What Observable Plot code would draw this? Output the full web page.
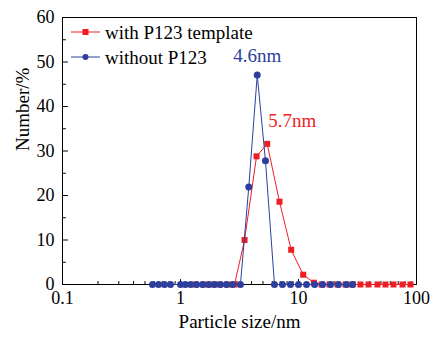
<!DOCTYPE html>
<html><head><meta charset="utf-8">
<script src="https://cdn.jsdelivr.net/npm/d3@7"></script>
<script src="https://cdn.jsdelivr.net/npm/@observablehq/plot@0.6"></script>
<style>body{margin:0;background:#fff}#chart{width:431px;height:337px}</style>
</head><body><div id="chart"></div>
<script>
// ---- data ----
const seriesNames = ["with P123 template", "without P123"];
const peakLabels = ["5.7nm", "4.6nm"];
const redSize = [1.34,1.57,1.83,2.14,2.50,2.87,3.49,4.41,5.43,6.90,8.67,10.96,13.5,15.7,18.3,21.4,25.0,28.7,33.5,39.2,46.7,54.6,63.8,76.1,88.9];
const redNumber = [0,0,0,0,0,0,10.0,28.8,31.6,18.6,7.8,2.2,0.4,0,0,0,0,0,0,0,0,0,0,0,0];
const blueSize = [0.579,0.651,0.732,0.823,1.0,1.10,1.22,1.37,1.54,1.73,1.94,2.18,2.45,2.76,3.22,3.79,4.47,5.25,6.26,7.31,8.55,10.0,11.7,13.7,16.0,18.7,21.8,25.5,28.7];
const blueNumber = [0,0,0,0,0,0,0,0,0,0,0,0,0,0,0,21.9,47.1,27.8,0,0,0,0,0,0,0,0,0,0,0];
const xTicks = [0.1, 1, 10, 100];
const xTickLabels = ["0.1", "1", "10", "100"];
const xMinorTicks = [0.2,0.3,0.4,0.5,0.6,0.7,0.8,0.9,2,3,4,5,6,7,8,9,20,30,40,50,60,70,80,90];
const yTicks = [0, 10, 20, 30, 40, 50, 60];
const yMinorTicks = [5, 15, 25, 35, 45, 55];

const RED = "#ee1f24", BLUE = "#2d3f9d";
const red = redSize.map((s, i) => ({size: s, number: redNumber[i]}));
const blue = blueSize.map((s, i) => ({size: s, number: blueNumber[i]}));
const redPeak = [red.reduce((a, b) => b.number > a.number ? b : a)];
const bluePeak = [blue.reduce((a, b) => b.number > a.number ? b : a)];

// straight tick shape for vectors (no arrow head)
const tickShape = {draw(context, l) { context.moveTo(0, 0); context.lineTo(0, -l); }};

function legend(index, scales, values, dims) {
  const g = d3.create("svg:g").attr("font-family", "Liberation Serif").attr("font-size", 19);
  const rows = [
    {name: seriesNames[0], color: RED, symbol: "square"},
    {name: seriesNames[1], color: BLUE, symbol: "circle"}
  ];
  const left = dims.marginLeft, top = dims.marginTop;
  rows.forEach((r, i) => {
    const y = top + 15 + i * 25;
    const x0 = left + 9;
    g.append("line").attr("x1", x0).attr("x2", x0 + 29).attr("y1", y).attr("y2", y)
      .attr("stroke", r.color).attr("stroke-width", 1);
    if (r.symbol === "square") {
      g.append("rect").attr("x", x0 + 14.5 - 3).attr("y", y - 3).attr("width", 6).attr("height", 6).attr("fill", r.color);
    } else {
      g.append("circle").attr("cx", x0 + 14.5).attr("cy", y).attr("r", 3).attr("fill", r.color);
    }
    g.append("text").attr("x", x0 + 34).attr("y", y).attr("dy", "0.35em")
      .attr("text-anchor", "start").attr("fill", "black").text(r.name);
  });
  return g.node();
}

const chart = Plot.plot({
  width: 431, height: 337,
  marginLeft: 62, marginRight: 15, marginTop: 17, marginBottom: 53,
  style: {fontFamily: "Liberation Serif", fontSize: "18px", color: "black", background: "white"},
  x: {type: "log", domain: [0.1, 100]},
  y: {domain: [0, 60]},
  marks: [
    Plot.axisX({ticks: xTicks, tickSize: 0, tickPadding: 7, tickFormat: d => xTickLabels[xTicks.indexOf(d)], label: null, fontSize: 18}),
    Plot.axisY({ticks: yTicks, tickSize: 0, tickPadding: 8, label: null, fontSize: 18}),
    // inward ticks
    Plot.vector(xTicks, {x: d => d, frameAnchor: "bottom", rotate: 0, length: 5, anchor: "start", shape: tickShape, stroke: "black", strokeWidth: 1}),
    Plot.vector(xMinorTicks, {x: d => d, frameAnchor: "bottom", rotate: 0, length: 3, anchor: "start", shape: tickShape, stroke: "black", strokeWidth: 1}),
    Plot.vector(yTicks, {y: d => d, frameAnchor: "left", rotate: 90, length: 5, anchor: "start", shape: tickShape, stroke: "black", strokeWidth: 1}),
    Plot.vector(yMinorTicks, {y: d => d, frameAnchor: "left", rotate: 90, length: 3, anchor: "start", shape: tickShape, stroke: "black", strokeWidth: 1}),
    Plot.frame({stroke: "black", strokeWidth: 1}),
    Plot.line(red, {x: "size", y: "number", stroke: RED, strokeWidth: 1}),
    Plot.dot(red, {x: "size", y: "number", symbol: "square", r: 3.4, fill: RED}),
    Plot.line(blue, {x: "size", y: "number", stroke: BLUE, strokeWidth: 1}),
    Plot.dot(blue, {x: "size", y: "number", symbol: "circle", r: 3.5, fill: BLUE}),
    Plot.text(bluePeak, {x: "size", y: "number", text: () => peakLabels[1], dy: -19, fill: BLUE, fontSize: 19}),
    Plot.text(redPeak, {x: "size", y: "number", text: () => peakLabels[0], textAnchor: "start", dx: 1, dy: -23, fill: RED, fontSize: 19}),
    Plot.text([0], {frameAnchor: "bottom", dy: 43, text: () => "Particle size/nm", fill: "black", fontSize: 19}),
    Plot.text([0], {frameAnchor: "left", dx: -40, rotate: -90, text: () => "Number/%", fill: "black", fontSize: 19}),
    legend
  ]
});
document.getElementById("chart").appendChild(chart);
</script>
</body></html>
